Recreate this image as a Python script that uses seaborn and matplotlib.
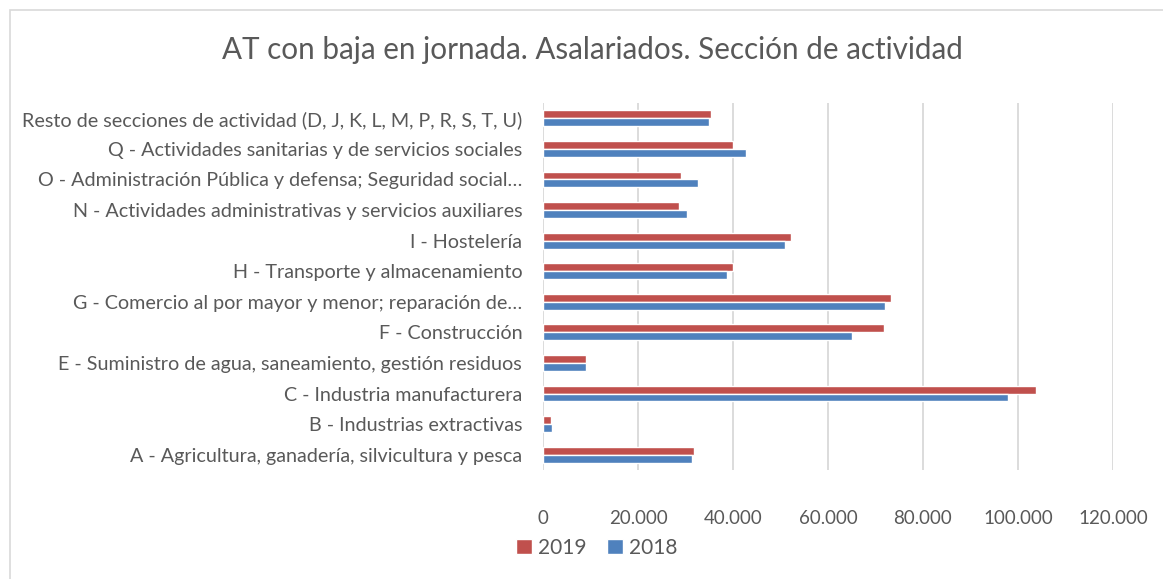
import pandas as pd
import numpy as np
import matplotlib
matplotlib.use('Agg')
import matplotlib.pyplot as plt
import matplotlib.ticker as mticker
from matplotlib.patches import Rectangle
import seaborn as sns

# Data
categories = [
    'Resto de secciones de actividad (D, J, K, L, M, P, R, S, T, U)',
    'Q - Actividades sanitarias y de servicios sociales',
    'O - Administración Pública y defensa; Seguridad social…',
    'N - Actividades administrativas y servicios auxiliares',
    'I - Hostelería',
    'H - Transporte y almacenamiento',
    'G - Comercio al por mayor y menor; reparación de…',
    'F - Construcción',
    'E - Suministro de agua, saneamiento, gestión residuos',
    'C - Industria manufacturera',
    'B - Industrias extractivas',
    'A - Agricultura, ganadería, silvicultura y pesca',
]
values_2019 = [35300, 40100, 29000, 28600, 52300, 39900, 73300, 71700, 9000, 103800, 1700, 31800]
values_2018 = [34900, 42700, 32700, 30400, 50900, 38800, 72100, 65100, 9100, 97900, 1800, 31300]
years = ['2019', '2018']
x_ticks = [0, 20000, 40000, 60000, 80000, 100000, 120000]

df = pd.DataFrame({
    'categoria': categories * 2,
    'valor': values_2019 + values_2018,
    'anio': [years[0]] * len(categories) + [years[1]] * len(categories),
})

sns.set_style('white')
plt.rcParams['font.family'] = ['Lato', 'DejaVu Sans']
text_color = '#595959'

fig = plt.figure(figsize=(11.63, 5.79), dpi=100)
ax = fig.add_axes([543 / 1163, 1 - 470 / 579, (1113 - 543) / 1163, (470 - 103) / 579])

sns.barplot(data=df, x='valor', y='categoria', hue='anio', hue_order=years,
            order=categories, orient='h', palette=['#C0504D', '#4F81BD'],
            width=0.52, saturation=1, ax=ax, legend=True)

ax.set_xlim(0, 120000)
ax.set_xticks(x_ticks)
ax.xaxis.set_major_formatter(mticker.FuncFormatter(lambda v, p: f'{int(v):,}'.replace(',', '.')))
ax.grid(axis='x', color='#D9D9D9', linewidth=1.3)
ax.set_axisbelow(True)
for s in ax.spines.values():
    s.set_visible(False)
ax.tick_params(axis='x', length=0, pad=29, labelsize=13.5, labelcolor=text_color)
ax.tick_params(axis='y', length=0, pad=15, labelsize=14.2, labelcolor=text_color)
ax.set_xlabel('')
ax.set_ylabel('')

# legend at the bottom
handles, labels = ax.get_legend_handles_labels()
ax.get_legend().remove()
fig.legend(handles, labels, loc='center', bbox_to_anchor=(597 / 1163, 1 - 548 / 579),
           ncol=2, frameon=False, fontsize=15, labelcolor=text_color,
           handlelength=0.75, handleheight=0.75, handletextpad=0.3, columnspacing=1.0)

fig.text(592 / 1163, 1 - 50 / 579, 'AT con baja en jornada. Asalariados. Sección de actividad',
         ha='center', va='center', fontsize=21.3, color=text_color)

# chart area border
fig.patches.append(Rectangle((10 / 1163, -0.1), 1.2, 1 - 10 / 579 + 0.1,
                             transform=fig.transFigure, fill=False,
                             edgecolor='#D9D9D9', linewidth=1.2))

fig.savefig('out.png', dpi=100)
